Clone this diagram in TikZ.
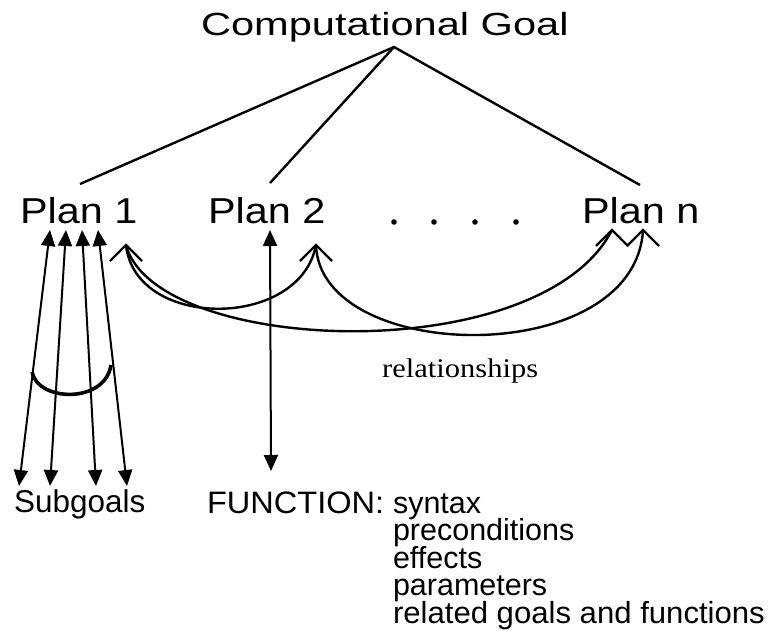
\documentclass[tikz,border=0pt]{standalone}
\usepackage{fontspec}
\setmainfont{Liberation Serif}
\setsansfont{Liberation Sans}
\usetikzlibrary{arrows.meta,calc}
\tikzset{
  lbl/.style={anchor=base west, inner sep=0pt, outer sep=0pt, font=\sffamily},
  ln/.style={line width=2.4pt},
  dbl/.style={line width=2pt, {Triangle[width=14pt,length=16pt]}-{Triangle[width=14pt,length=16pt]}},
  rel/.style={line width=2.4pt},
  chev/.style={line width=2.4pt, line join=miter},
}
\begin{document}
\begin{tikzpicture}[x=1pt,y=-1pt]
\useasboundingbox (0,0) rectangle (774,643);
% texts
\node[lbl] (goal) at (201,35) {\scalebox{1.3}[1]{\fontsize{32}{32}\selectfont Computational Goal}};
\node[lbl] (p1) at (20,223) {\scalebox{1.15}[1]{\fontsize{36}{36}\selectfont Plan 1}};
\node[lbl] (p2) at (208,223) {\scalebox{1.15}[1]{\fontsize{36}{36}\selectfont Plan 2}};
\node[lbl] (pn) at (582,223) {\scalebox{1.15}[1]{\fontsize{36}{36}\selectfont Plan n}};
\node[lbl] (sub) at (14,512) {\fontsize{31.5}{31}\selectfont Subgoals};
\node[lbl] (fun) at (207,513) {\scalebox{1.05}[1]{\fontsize{31}{31}\selectfont FUNCTION:}};
\node[lbl] (f1) at (393,513) {\fontsize{30.5}{31}\selectfont syntax};
\node[lbl] (f2) at (393,540.5) {\fontsize{30.5}{31}\selectfont preconditions};
\node[lbl] (f3) at (393,568) {\fontsize{30.5}{31}\selectfont effects};
\node[lbl] (f4) at (393,595.5) {\fontsize{30.5}{31}\selectfont parameters};
\node[lbl] (f5) at (393,623) {\scalebox{1.02}[1]{\fontsize{30.5}{31}\selectfont related goals and functions}};
\node[anchor=base west, inner sep=0pt] (rel) at (382,377) {\scalebox{1.13}[1]{\fontsize{27}{27}\selectfont relationships}};
% dots
\foreach \x/\n in {394/d1,434/d2,475/d3,516/d4}
  \fill (\x,222) circle (2.8) coordinate (\n);
% coordinates
\coordinate (apex) at (394,47);
\coordinate (g1) at (80,184);
\coordinate (g2) at (270,183);
\coordinate (gn) at (640,185);
\coordinate (s1t) at (50,230);  \coordinate (s1b) at (19,486);
\coordinate (s2t) at (66,230);  \coordinate (s2b) at (50,486);
\coordinate (s3t) at (82,230);  \coordinate (s3b) at (96,486);
\coordinate (s4t) at (98,230);  \coordinate (s4b) at (127,486);
\coordinate (ft) at (270,230);  \coordinate (fb) at (271,471);
\coordinate (r1) at (126,245);
\coordinate (r2) at (316,245);
\coordinate (rn1) at (612,230);
\coordinate (rn2) at (643,230);
\coordinate (a1) at (32,372);
\coordinate (a2) at (111,365);
% tree lines
\draw[ln] (g1) -- (apex) -- (gn);
\draw[ln] (apex) -- (g2);
% subgoal arrows
\draw[dbl] (s1t) -- (s1b);
\draw[dbl] (s2t) -- (s2b);
\draw[dbl] (s3t) -- (s3b);
\draw[dbl] (s4t) -- (s4b);
\draw[line width=3.6pt] (a1) .. controls (38,402) and (105,404) .. (a2);
% function arrow
\draw[dbl] (ft) -- (fb);
% relationships
\draw[rel] (r1) .. controls (135,330) and (300,330) .. (r2);
\draw[rel] (r1) .. controls (155,355) and (540,370) .. (rn1);
\draw[rel] (r2) .. controls (320,365) and (635,370) .. (rn2);
\draw[chev] ($(r1)+(-16,16)$) -- (r1) -- ($(r1)+(16,16)$);
\draw[chev] ($(r2)+(-16,16)$) -- (r2) -- ($(r2)+(16,16)$);
\draw[chev] ($(rn1)+(-16,16)$) -- (rn1) -- ($(rn1)+(15.5,15.5)$) -- (rn2) -- ($(rn2)+(16,16)$);
\end{tikzpicture}
\end{document}
